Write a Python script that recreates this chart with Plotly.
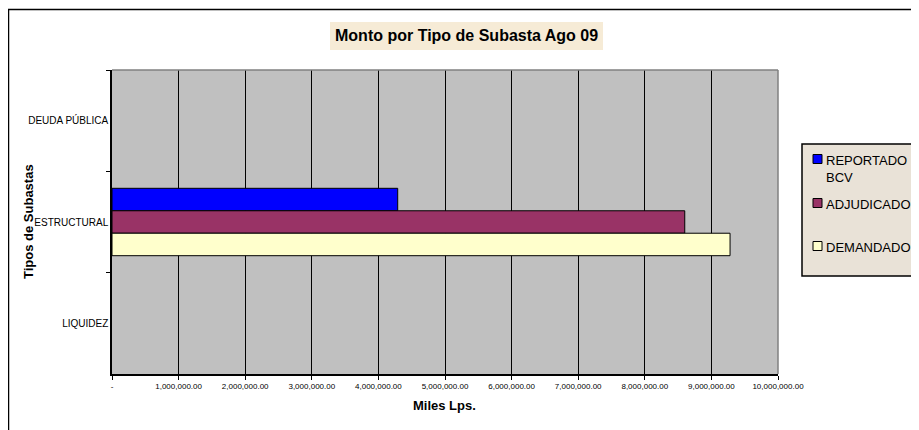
import plotly.graph_objects as go

categories = ["DEUDA PÚBLICA", "ESTRUCTURAL", "LIQUIDEZ"]
reportado_bcv = [None, 4290000, None]
adjudicado = [None, 8600000, None]
demandado = [None, 9280000, None]
series_names = ["REPORTADO<br>BCV", "ADJUDICADO", "DEMANDADO"]
series_colors = ["#0000FF", "#993366", "#FFFFCC"]
x_tickvals = [0, 1e6, 2e6, 3e6, 4e6, 5e6, 6e6, 7e6, 8e6, 9e6, 10e6]
x_ticktext = ["-", "1,000,000.00", "2,000,000.00", "3,000,000.00", "4,000,000.00",
              "5,000,000.00", "6,000,000.00", "7,000,000.00", "8,000,000.00",
              "9,000,000.00", "10,000,000.00"]

# The page body adds an 8px offset; work in screenshot pixel coordinates.
OFF = 8
W, H = 919 - OFF, 430 - OFF
PL, PR, PT, PB = 112, 778, 70, 374          # plot area in screenshot px
L, T = PL - OFF, PT - OFF
R, B = W - (PR - OFF), H - (PB - OFF)
PW, PH = PR - PL, PB - PT

def px(x):
    return (x - PL) / PW

def py(y):
    return 1 - (y - PT) / PH

FONT = "Arial, Liberation Sans, sans-serif"

fig = go.Figure()
for name, vals, col in zip(series_names, [reportado_bcv, adjudicado, demandado], series_colors):
    fig.add_trace(go.Bar(
        y=categories, x=vals, name=name.replace("<br>", " "), orientation="h",
        marker=dict(color=col, line=dict(color="#000000", width=1)),
        hoverinfo="x+name",
    ))

shapes = [
    # outer chart border
    dict(type="rect", xref="paper", yref="paper",
         x0=px(8.5), x1=px(940), y0=py(450), y1=py(9.5),
         line=dict(color="#000000", width=1.5), fillcolor="rgba(0,0,0,0)", layer="above"),
    # title background
    dict(type="rect", xref="paper", yref="paper",
         x0=px(330), x1=px(603), y0=py(50), y1=py(22),
         line=dict(width=0), fillcolor="#F6EBD6", layer="below"),
    # legend box
    dict(type="rect", xref="paper", yref="paper",
         x0=px(802), x1=px(940), y0=py(276), y1=py(144),
         line=dict(color="#000000", width=1.5), fillcolor="#E9E2D7", layer="below"),
    # plot area top/right border
    dict(type="line", xref="paper", yref="paper", x0=0, x1=1, y0=1, y1=1,
         line=dict(color="#808080", width=1.5), layer="above"),
    dict(type="line", xref="paper", yref="paper", x0=1, x1=1, y0=0, y1=1,
         line=dict(color="#808080", width=1.5), layer="above"),
]

annotations = [
    dict(text="<b>Monto por Tipo de Subasta Ago 09</b>", xref="paper", yref="paper",
         x=px(466.5), y=py(36), xanchor="center", yanchor="middle",
         showarrow=False, font=dict(size=16, color="#000000")),
    dict(text="<b>Miles Lps.</b>", xref="paper", yref="paper",
         x=px(444), y=py(405), xanchor="center", yanchor="middle",
         showarrow=False, font=dict(size=13, color="#000000")),
    dict(text="<b>Tipos de Subastas</b>", xref="paper", yref="paper",
         x=px(28), y=py(222), xanchor="center", yanchor="middle", textangle=-90,
         showarrow=False, font=dict(size=13, color="#000000")),
]

# legend (drawn as a key beside the plot)
legend_rows = [159, 203, 246]
for name, col, yrow in zip(series_names, series_colors, legend_rows):
    shapes.append(dict(type="rect", xref="paper", yref="paper",
                       x0=px(813), x1=px(822), y0=py(yrow + 4.5), y1=py(yrow - 4.5),
                       line=dict(color="#000000", width=1), fillcolor=col, layer="above"))
    annotations.append(dict(text=name, xref="paper", yref="paper",
                            x=px(824), y=py(yrow - 8), xanchor="left", yanchor="top",
                            align="left", showarrow=False,
                            font=dict(size=13, color="#000000", family=FONT)))

fig.update_layout(
    width=W, height=H,
    margin=dict(l=L, r=R, t=T, b=B, pad=0, autoexpand=False),
    paper_bgcolor="#FFFFFF", plot_bgcolor="#C0C0C0",
    barmode="group", bargap=0.335, bargroupgap=0,
    font=dict(family=FONT, color="#000000"),
    showlegend=False,
    xaxis=dict(
        range=[0, 10e6], tickvals=x_tickvals, ticktext=x_ticktext,
        tickfont=dict(size=8), ticks="outside", ticklen=4, tickcolor="#000000",
        showgrid=True, gridcolor="#000000", gridwidth=1,
        showline=True, linecolor="#000000", linewidth=1.5,
        zeroline=False, fixedrange=True,
    ),
    yaxis=dict(
        autorange="reversed", type="category",
        tickfont=dict(size=10), ticks="outside", ticklen=4, tickcolor="#000000",
        tickson="boundaries", showgrid=False,
        showline=True, linecolor="#000000", linewidth=1.5,
        zeroline=False, fixedrange=True,
    ),
    shapes=shapes,
    annotations=annotations,
)

fig.write_html("out.html")
